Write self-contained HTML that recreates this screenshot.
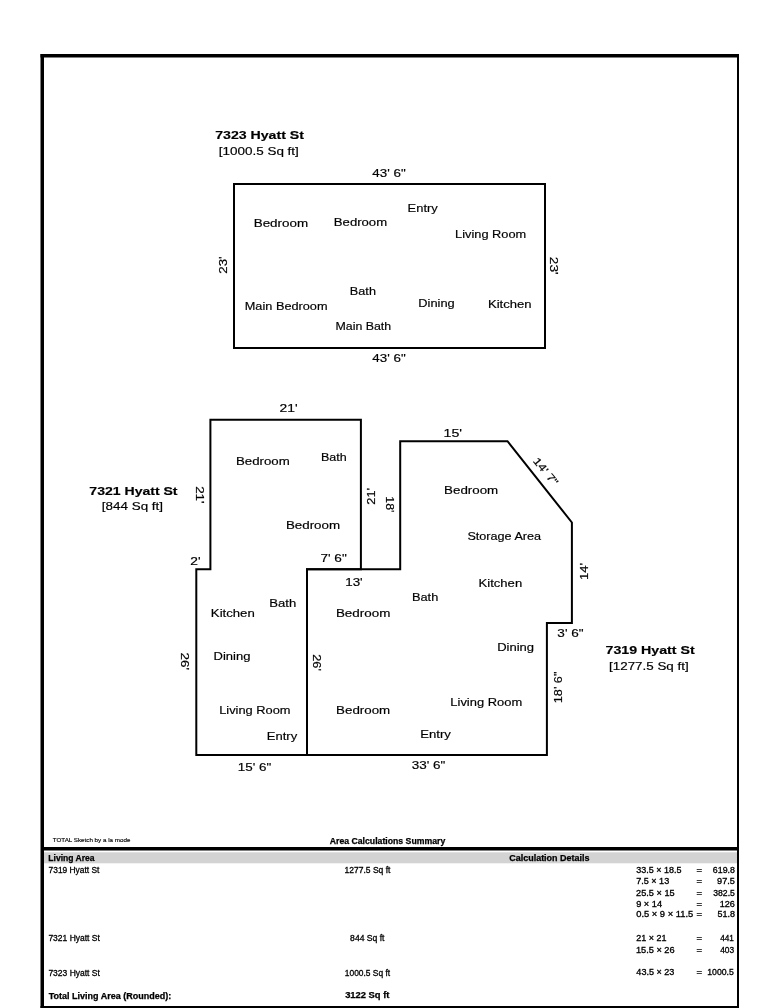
<!DOCTYPE html>
<html><head><meta charset="utf-8"><style>
html,body{margin:0;padding:0;background:#fff;}
svg{display:block;will-change:transform;}
text{font-family:"Liberation Sans",sans-serif;fill:#000;}
.p{stroke:#000;stroke-width:0.18px;}
.tb{stroke:#000;stroke-width:0.25px;}
.t{stroke:#000;stroke-width:0.3px;}
.s{stroke:#000;stroke-width:0.15px;}
</style></head><body>
<svg width="779" height="1008" viewBox="0 0 779 1008">
<rect width="779" height="1008" fill="#fff"/>

<rect x="40.5" y="54" width="698.5" height="3.5" fill="#000"/>
<rect x="40.5" y="54" width="3.5" height="954" fill="#000"/>
<rect x="737" y="54" width="2" height="954" fill="#000"/>
<rect x="40.5" y="1006" width="698.5" height="2" fill="#000"/>
<rect x="44" y="847" width="693" height="3.5" fill="#000"/>
<rect x="44" y="852.3" width="693" height="11" fill="#d3d3d3"/>
<g fill="none" stroke="#000" stroke-width="2" stroke-linejoin="miter" stroke-linecap="square">
<rect x="234" y="184" width="311" height="164"/>
<path d="M210.4 419.8 H360.9 V569.3 H307 V755.1 H196.3 V569.3 H210.4 Z"/>
<path d="M307 569.3 H400.2 V441.2 H507.5 L571.9 522.5 V622.9 H546.9 V755.1 H307 Z"/>
</g>

<text class="p" x="215.16" y="138.80" font-size="11.4" font-weight="bold" textLength="88.79" lengthAdjust="spacingAndGlyphs">7323 Hyatt St</text>
<text class="p" x="218.86" y="155.40" font-size="11.5" textLength="79.97" lengthAdjust="spacingAndGlyphs">[1000.5 Sq ft]</text>
<text class="p" x="372.37" y="176.60" font-size="11.6" textLength="33.30" lengthAdjust="spacingAndGlyphs">43' 6&quot;</text>
<text class="p" x="253.73" y="226.80" font-size="11.6" textLength="54.38" lengthAdjust="spacingAndGlyphs">Bedroom</text>
<text class="p" x="333.85" y="225.80" font-size="11.6" textLength="53.24" lengthAdjust="spacingAndGlyphs">Bedroom</text>
<text class="p" x="407.57" y="212.10" font-size="11.6" textLength="30.19" lengthAdjust="spacingAndGlyphs">Entry</text>
<text class="p" x="455.08" y="237.60" font-size="11.6" textLength="71.09" lengthAdjust="spacingAndGlyphs">Living Room</text>
<text class="p" x="349.89" y="295.40" font-size="11.6" textLength="26.06" lengthAdjust="spacingAndGlyphs">Bath</text>
<text class="p" x="244.78" y="310.20" font-size="11.6" textLength="82.78" lengthAdjust="spacingAndGlyphs">Main Bedroom</text>
<text class="p" x="335.51" y="329.90" font-size="11.6" textLength="55.62" lengthAdjust="spacingAndGlyphs">Main Bath</text>
<text class="p" x="418.37" y="306.90" font-size="11.6" textLength="36.36" lengthAdjust="spacingAndGlyphs">Dining</text>
<text class="p" x="487.95" y="307.80" font-size="11.6" textLength="43.60" lengthAdjust="spacingAndGlyphs">Kitchen</text>
<text class="p" x="372.37" y="361.80" font-size="11.6" textLength="33.30" lengthAdjust="spacingAndGlyphs">43' 6&quot;</text>
<text class="p" x="89.37" y="494.60" font-size="11.4" font-weight="bold" textLength="88.18" lengthAdjust="spacingAndGlyphs">7321 Hyatt St</text>
<text class="p" x="101.86" y="509.70" font-size="11.5" textLength="61.16" lengthAdjust="spacingAndGlyphs">[844 Sq ft]</text>
<text class="p" x="279.51" y="412.40" font-size="11.6" textLength="18.06" lengthAdjust="spacingAndGlyphs">21'</text>
<text class="p" x="236.04" y="464.70" font-size="11.6" textLength="53.65" lengthAdjust="spacingAndGlyphs">Bedroom</text>
<text class="p" x="320.90" y="460.60" font-size="11.6" textLength="25.74" lengthAdjust="spacingAndGlyphs">Bath</text>
<text class="p" x="285.93" y="528.80" font-size="11.6" textLength="54.17" lengthAdjust="spacingAndGlyphs">Bedroom</text>
<text class="p" x="320.42" y="562.20" font-size="11.6" textLength="26.34" lengthAdjust="spacingAndGlyphs">7' 6&quot;</text>
<text class="p" x="190.31" y="564.80" font-size="11.6" textLength="10.31" lengthAdjust="spacingAndGlyphs">2'</text>
<text class="p" x="210.85" y="616.50" font-size="11.6" textLength="43.92" lengthAdjust="spacingAndGlyphs">Kitchen</text>
<text class="p" x="269.25" y="606.60" font-size="11.6" textLength="26.93" lengthAdjust="spacingAndGlyphs">Bath</text>
<text class="p" x="213.56" y="659.60" font-size="11.6" textLength="36.89" lengthAdjust="spacingAndGlyphs">Dining</text>
<text class="p" x="219.17" y="714.10" font-size="11.6" textLength="71.40" lengthAdjust="spacingAndGlyphs">Living Room</text>
<text class="p" x="266.76" y="739.90" font-size="11.6" textLength="30.39" lengthAdjust="spacingAndGlyphs">Entry</text>
<text class="p" x="237.80" y="771.00" font-size="11.6" textLength="33.37" lengthAdjust="spacingAndGlyphs">15' 6&quot;</text>
<text class="p" x="345.20" y="586.10" font-size="11.6" textLength="17.45" lengthAdjust="spacingAndGlyphs">13'</text>
<text class="p" x="443.54" y="437.10" font-size="11.6" textLength="18.44" lengthAdjust="spacingAndGlyphs">15'</text>
<text class="p" x="444.13" y="493.70" font-size="11.6" textLength="54.07" lengthAdjust="spacingAndGlyphs">Bedroom</text>
<text class="p" x="467.43" y="540.30" font-size="11.6" textLength="73.70" lengthAdjust="spacingAndGlyphs">Storage Area</text>
<text class="p" x="478.55" y="586.80" font-size="11.6" textLength="43.60" lengthAdjust="spacingAndGlyphs">Kitchen</text>
<text class="p" x="411.98" y="601.30" font-size="11.6" textLength="26.28" lengthAdjust="spacingAndGlyphs">Bath</text>
<text class="p" x="335.93" y="617.40" font-size="11.6" textLength="54.38" lengthAdjust="spacingAndGlyphs">Bedroom</text>
<text class="p" x="497.16" y="651.20" font-size="11.6" textLength="36.89" lengthAdjust="spacingAndGlyphs">Dining</text>
<text class="p" x="450.37" y="706.10" font-size="11.6" textLength="71.81" lengthAdjust="spacingAndGlyphs">Living Room</text>
<text class="p" x="336.13" y="713.90" font-size="11.6" textLength="54.07" lengthAdjust="spacingAndGlyphs">Bedroom</text>
<text class="p" x="420.15" y="737.80" font-size="11.6" textLength="30.70" lengthAdjust="spacingAndGlyphs">Entry</text>
<text class="p" x="411.86" y="768.60" font-size="11.6" textLength="33.50" lengthAdjust="spacingAndGlyphs">33' 6&quot;</text>
<text class="p" x="557.36" y="637.30" font-size="11.6" textLength="26.20" lengthAdjust="spacingAndGlyphs">3' 6&quot;</text>
<text class="p" x="605.56" y="653.80" font-size="11.4" font-weight="bold" textLength="89.09" lengthAdjust="spacingAndGlyphs">7319 Hyatt St</text>
<text class="p" x="609.06" y="670.10" font-size="11.5" textLength="79.66" lengthAdjust="spacingAndGlyphs">[1277.5 Sq ft]</text>
<text class="s" x="52.74" y="841.90" font-size="6.2" textLength="77.65" lengthAdjust="spacingAndGlyphs">TOTAL Sketch by a la mode</text>
<text class="tb" x="329.78" y="844.40" font-size="8.4" font-weight="bold" textLength="115.48" lengthAdjust="spacingAndGlyphs">Area Calculations Summary</text>
<text class="tb" x="48.34" y="860.70" font-size="8.3" font-weight="bold" textLength="46.30" lengthAdjust="spacingAndGlyphs">Living Area</text>
<text class="tb" x="509.24" y="860.90" font-size="8.3" font-weight="bold" textLength="80.23" lengthAdjust="spacingAndGlyphs">Calculation Details</text>
<text class="t" x="48.58" y="872.80" font-size="8.8" textLength="50.80" lengthAdjust="spacingAndGlyphs">7319 Hyatt St</text>
<text class="t" x="344.56" y="873.10" font-size="8.8" textLength="45.91" lengthAdjust="spacingAndGlyphs">1277.5 Sq ft</text>
<text class="t" x="636.24" y="873.30" font-size="8.2" textLength="45.24" lengthAdjust="spacingAndGlyphs">33.5 × 18.5</text>
<text class="t" x="636.15" y="883.90" font-size="8.2" textLength="33.04" lengthAdjust="spacingAndGlyphs">7.5 × 13</text>
<text class="t" x="636.14" y="895.90" font-size="8.2" textLength="38.45" lengthAdjust="spacingAndGlyphs">25.5 × 15</text>
<text class="t" x="636.19" y="906.50" font-size="8.2" textLength="25.87" lengthAdjust="spacingAndGlyphs">9 × 14</text>
<text class="t" x="636.23" y="917.40" font-size="8.2" textLength="56.97" lengthAdjust="spacingAndGlyphs">0.5 × 9 × 11.5</text>
<text class="t" x="712.86" y="873.30" font-size="8.2" textLength="22.01" lengthAdjust="spacingAndGlyphs">619.8</text>
<text class="t" x="717.09" y="883.90" font-size="8.2" textLength="17.79" lengthAdjust="spacingAndGlyphs">97.5</text>
<text class="t" x="713.25" y="895.90" font-size="8.2" textLength="21.61" lengthAdjust="spacingAndGlyphs">382.5</text>
<text class="t" x="719.72" y="906.50" font-size="8.2" textLength="15.18" lengthAdjust="spacingAndGlyphs">126</text>
<text class="t" x="717.44" y="917.40" font-size="8.2" textLength="17.43" lengthAdjust="spacingAndGlyphs">51.8</text>
<text class="t" x="48.38" y="940.70" font-size="8.8" textLength="51.50" lengthAdjust="spacingAndGlyphs">7321 Hyatt St</text>
<text class="t" x="350.11" y="940.60" font-size="8.8" textLength="34.35" lengthAdjust="spacingAndGlyphs">844 Sq ft</text>
<text class="t" x="636.15" y="940.50" font-size="8.2" textLength="30.29" lengthAdjust="spacingAndGlyphs">21 × 21</text>
<text class="t" x="635.91" y="952.50" font-size="8.2" textLength="38.69" lengthAdjust="spacingAndGlyphs">15.5 × 26</text>
<text class="t" x="720.19" y="940.50" font-size="8.2" textLength="13.70" lengthAdjust="spacingAndGlyphs">441</text>
<text class="t" x="720.19" y="952.50" font-size="8.2" textLength="13.97" lengthAdjust="spacingAndGlyphs">403</text>
<text class="t" x="48.38" y="975.70" font-size="8.8" textLength="51.50" lengthAdjust="spacingAndGlyphs">7323 Hyatt St</text>
<text class="t" x="344.77" y="975.80" font-size="8.8" textLength="45.40" lengthAdjust="spacingAndGlyphs">1000.5 Sq ft</text>
<text class="t" x="636.37" y="975.40" font-size="8.2" textLength="38.02" lengthAdjust="spacingAndGlyphs">43.5 × 23</text>
<text class="t" x="707.25" y="975.40" font-size="8.2" textLength="26.63" lengthAdjust="spacingAndGlyphs">1000.5</text>
<text class="tb" x="48.71" y="998.50" font-size="8.3" font-weight="bold" textLength="122.45" lengthAdjust="spacingAndGlyphs">Total Living Area (Rounded):</text>
<text class="tb" x="345.17" y="998.40" font-size="8.3" font-weight="bold" textLength="44.27" lengthAdjust="spacingAndGlyphs">3122 Sq ft</text>
<text class="t" x="696.63" y="873.30" font-size="8.2" textLength="5.54" lengthAdjust="spacingAndGlyphs">=</text>
<text class="t" x="696.63" y="883.90" font-size="8.2" textLength="5.54" lengthAdjust="spacingAndGlyphs">=</text>
<text class="t" x="696.63" y="895.90" font-size="8.2" textLength="5.54" lengthAdjust="spacingAndGlyphs">=</text>
<text class="t" x="696.63" y="906.50" font-size="8.2" textLength="5.54" lengthAdjust="spacingAndGlyphs">=</text>
<text class="t" x="696.63" y="917.40" font-size="8.2" textLength="5.54" lengthAdjust="spacingAndGlyphs">=</text>
<text class="t" x="696.63" y="940.50" font-size="8.2" textLength="5.54" lengthAdjust="spacingAndGlyphs">=</text>
<text class="t" x="696.63" y="952.50" font-size="8.2" textLength="5.54" lengthAdjust="spacingAndGlyphs">=</text>
<text class="t" x="696.63" y="975.40" font-size="8.2" textLength="5.54" lengthAdjust="spacingAndGlyphs">=</text>
<text class="p" transform="translate(222.85,265.05) rotate(-90)" x="-8.72" y="4.00" font-size="11.6" textLength="17.41" lengthAdjust="spacingAndGlyphs">23'</text>
<text class="p" transform="translate(554.45,265.70) rotate(90)" x="-8.88" y="4.00" font-size="11.6" textLength="17.74" lengthAdjust="spacingAndGlyphs">23'</text>
<text class="p" transform="translate(199.90,494.90) rotate(90)" x="-8.77" y="4.06" font-size="11.6" textLength="17.52" lengthAdjust="spacingAndGlyphs">21'</text>
<text class="p" transform="translate(371.00,496.40) rotate(-90)" x="-8.34" y="4.06" font-size="11.6" textLength="16.66" lengthAdjust="spacingAndGlyphs">21'</text>
<text class="p" transform="translate(389.90,504.50) rotate(90)" x="-8.23" y="4.00" font-size="11.6" textLength="16.13" lengthAdjust="spacingAndGlyphs">18'</text>
<text class="p" transform="translate(584.05,571.30) rotate(-90)" x="-8.68" y="4.00" font-size="11.6" textLength="17.01" lengthAdjust="spacingAndGlyphs">14'</text>
<text class="p" transform="translate(184.50,661.30) rotate(90)" x="-8.77" y="4.00" font-size="11.6" textLength="17.52" lengthAdjust="spacingAndGlyphs">26'</text>
<text class="p" transform="translate(316.70,662.50) rotate(90)" x="-8.34" y="4.00" font-size="11.6" textLength="16.66" lengthAdjust="spacingAndGlyphs">26'</text>
<text class="p" transform="translate(558.40,687.20) rotate(-90)" x="-16.05" y="4.00" font-size="11.6" textLength="31.69" lengthAdjust="spacingAndGlyphs">18' 6&quot;</text>
<text class="p" transform="translate(545.90,471.60) rotate(50.5)" x="-16.48" y="3.73" font-size="10.8" textLength="32.53" lengthAdjust="spacingAndGlyphs">14' 7&quot;</text>
</svg>
</body></html>
